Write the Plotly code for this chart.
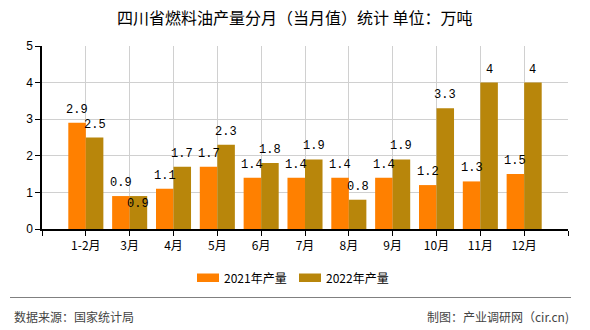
import plotly.graph_objects as go

# Monthly fuel oil output, Sichuan (10k tonnes)
months = ["1-2月", "3月", "4月", "5月", "6月", "7月", "8月", "9月", "10月", "11月", "12月"]
out_2021 = [2.9, 0.9, 1.1, 1.7, 1.4, 1.4, 1.4, 1.4, 1.2, 1.3, 1.5]
out_2022 = [2.5, 0.9, 1.7, 2.3, 1.8, 1.9, 0.8, 1.9, 3.3, 4, 4]
series_names = ["2021年产量", "2022年产量"]
y_ticks = [0, 1, 2, 3, 4, 5]

COL_2021 = "#FF8000"
COL_2022 = "#B8860B"
CJK = "Noto Sans CJK SC"
LABEL_FONT = "Liberation Mono"

W, H = 590, 330
ML, MR, MT, MB = 42, 22, 46, 101
PW, PH = W - ML - MR, H - MT - MB


def px(x):
    return (x - ML) / PW


def py(y):
    return (H - MB - y) / PH


xpos = list(range(1, len(months) + 1))

fig = go.Figure()
fig.add_trace(go.Bar(x=xpos, y=out_2021, name=series_names[0],
                     marker=dict(color=COL_2021, line=dict(width=0)), showlegend=False))
fig.add_trace(go.Bar(x=xpos, y=out_2022, name=series_names[1],
                     marker=dict(color=COL_2022, line=dict(width=0)), showlegend=False))

annotations = []
# value labels above each bar; one label is pushed down to avoid an overlap
label_shift = {(1, 1): -8}
for s, vals in enumerate([out_2021, out_2022]):
    offset = -0.2 if s == 0 else 0.2
    for i, v in enumerate(vals):
        annotations.append(dict(
            x=xpos[i] + offset, y=v, xref="x", yref="y",
            text=f"{v:g}", showarrow=False, yanchor="middle",
            yshift=label_shift.get((i, s), 13),
            font=dict(family=LABEL_FONT, size=12, color="#000")))

# title
annotations.append(dict(x=px(295), y=py(17), xref="paper", yref="paper",
                        text="四川省燃料油产量分月（当月值）统计 单位：万吨",
                        showarrow=False, xanchor="center", yanchor="middle",
                        font=dict(family=CJK, size=16, color="#000")))

# legend
shapes = []
legend_items = [(197, COL_2021, series_names[0]), (299, COL_2022, series_names[1])]
for x0, col, name in legend_items:
    shapes.append(dict(type="rect", xref="paper", yref="paper",
                       x0=px(x0), x1=px(x0 + 22), y0=py(282), y1=py(273.5),
                       fillcolor=col, line=dict(width=0)))
    annotations.append(dict(x=px(x0 + 25), y=py(277.5), xref="paper", yref="paper",
                            text=name, showarrow=False, xanchor="left", yanchor="middle",
                            font=dict(family=CJK, size=12, color="#000")))

# footer
shapes.append(dict(type="line", xref="paper", yref="paper",
                   x0=px(10), x1=px(571), y0=py(297.5), y1=py(297.5),
                   line=dict(color="#808080", width=1.2)))
annotations.append(dict(x=px(12), y=py(316), xref="paper", yref="paper",
                        text="数据来源：国家统计局", showarrow=False,
                        xanchor="left", yanchor="middle",
                        font=dict(family=CJK, size=12, color="#444")))
annotations.append(dict(x=px(571), y=py(316), xref="paper", yref="paper",
                        text="制图：产业调研网（cir.cn)", showarrow=False,
                        xanchor="right", yanchor="middle",
                        font=dict(family=CJK, size=12, color="#444")))

fig.update_layout(
    width=W, height=H,
    margin=dict(l=ML, r=MR, t=MT, b=MB, pad=0),
    paper_bgcolor="white", plot_bgcolor="white",
    barmode="group", bargap=0.2, bargroupgap=0,
    font=dict(family=CJK, size=12, color="#000"),
    annotations=annotations, shapes=shapes,
    xaxis=dict(range=[0, len(months) + 1], tickmode="array",
               tickvals=[0] + xpos + [len(months) + 1],
               ticktext=[""] + months + [""],
               showgrid=True, gridcolor="#d0d0d0", gridwidth=1,
               showline=True, linecolor="#000", linewidth=1.5,
               ticks="outside", ticklen=5, tickcolor="#000",
               tickfont=dict(family=CJK, size=12, color="#000"),
               zeroline=False, fixedrange=True),
    yaxis=dict(range=[0, 5], tickmode="array", tickvals=y_ticks,
               showgrid=True, gridcolor="#d0d0d0", gridwidth=1,
               showline=True, linecolor="#000", linewidth=1.5,
               ticks="outside", ticklen=5, tickcolor="#000",
               tickfont=dict(family="Liberation Sans", size=12, color="#000"),
               zeroline=False, fixedrange=True),
)

fig.write_html("out.html", config={"displayModeBar": False})
